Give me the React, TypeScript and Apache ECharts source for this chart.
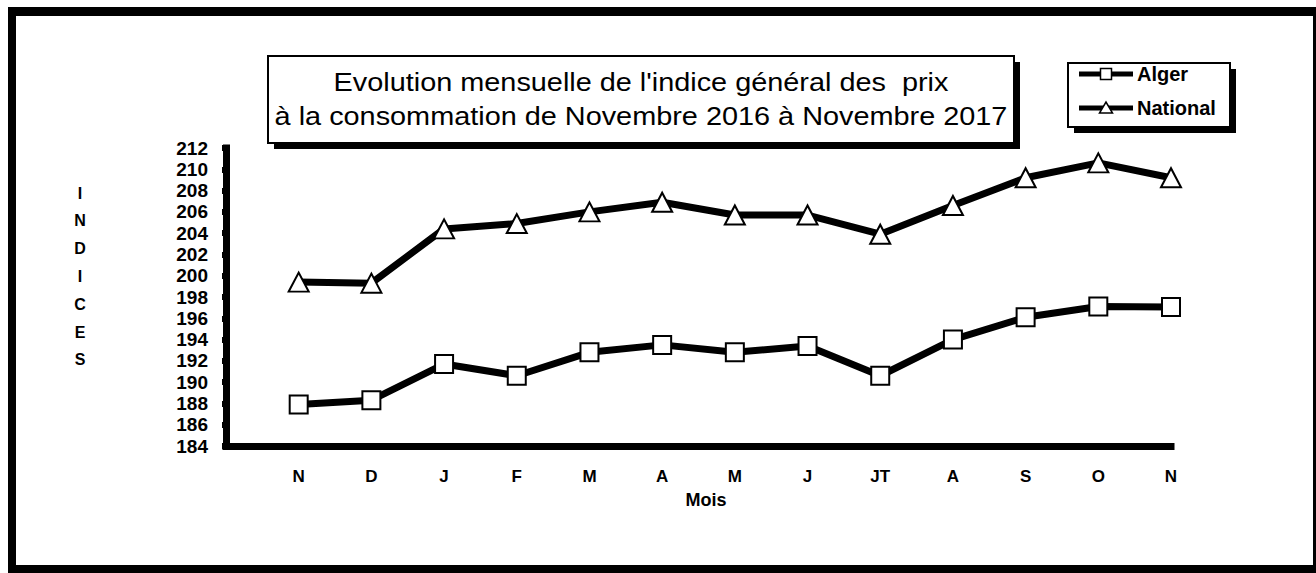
import React, { useEffect, useRef } from "react";
import * as echarts from "echarts";

const months = ["", "N", "D", "J", "F", "M", "A", "M", "J", "JT", "A", "S", "O", "N"];
const algerValues = [null, 187.9, 188.3, 191.7, 190.6, 192.8, 193.5, 192.8, 193.4, 190.6, 194.0, 196.1, 197.1, 197.05];
const nationalValues = [null, 199.4, 199.3, 204.4, 204.9, 206.0, 206.9, 205.7, 205.7, 203.9, 206.6, 209.2, 210.6, 209.2];
const yMin = 184;
const yMax = 212;
const yInterval = 2;
const seriesNames = ["Alger", "National"];
const titleLines = [
  "Evolution mensuelle de l'indice général des  prix",
  "à la consommation de Novembre 2016 à Novembre 2017",
];
const yAxisTitle = "INDICES";
const xAxisTitle = "Mois";

const FONT = "Arial, 'Liberation Sans', Helvetica, sans-serif";

export default function App() {
  const ref = useRef<HTMLDivElement>(null);

  useEffect(() => {
    if (!ref.current) return;
    const chart = echarts.init(ref.current, null, { renderer: "svg" });

    const frame = [
      { type: "rect", shape: { x: 8, y: 7, width: 1310, height: 9 }, style: { fill: "#000" } },
      { type: "rect", shape: { x: 8, y: 7, width: 8, height: 566 }, style: { fill: "#000" } },
      { type: "rect", shape: { x: 8, y: 565, width: 1310, height: 8 }, style: { fill: "#000" } },
      { type: "rect", shape: { x: 1313, y: 7, width: 3, height: 566 }, style: { fill: "#000" } },
    ];

    const titleBox = [
      { type: "rect", shape: { x: 274, y: 62, width: 746, height: 87 }, style: { fill: "#000" } },
      { type: "rect", shape: { x: 268, y: 56, width: 746, height: 87 }, style: { fill: "#fff", stroke: "#000", lineWidth: 2 } },
      ...titleLines.map((t, i) => ({
        type: "text",
        x: 641,
        y: 82 + i * 34,
        scaleX: 1.11,
        style: { text: t, fill: "#000", font: `26px ${FONT}`, textAlign: "center", textVerticalAlign: "middle" },
      })),
    ];

    const legendY = [74, 108];
    const legend = [
      { type: "rect", shape: { x: 1074, y: 69, width: 162, height: 64 }, style: { fill: "#000" } },
      { type: "rect", shape: { x: 1068, y: 63, width: 162, height: 64 }, style: { fill: "#fff", stroke: "#000", lineWidth: 2 } },
      ...seriesNames.flatMap((name, i) => {
        const y = legendY[i];
        const marker =
          i === 0
            ? { type: "rect", shape: { x: 1100.5, y: y - 5.5, width: 11, height: 11 }, style: { fill: "#fff", stroke: "#000", lineWidth: 1.5 } }
            : { type: "polygon", shape: { points: [[1099.5, y + 5], [1112.5, y + 5], [1106, y - 6]] }, style: { fill: "#fff", stroke: "#000", lineWidth: 1.5 } };
        return [
          { type: "line", shape: { x1: 1079, y1: y, x2: 1133, y2: y }, style: { stroke: "#000", lineWidth: 5 } },
          marker,
          { type: "text", x: 1137, y, style: { text: name, fill: "#000", font: `bold 20px ${FONT}`, textVerticalAlign: "middle" } },
        ];
      }),
    ];

    const indices = yAxisTitle.split("").map((ch, i) => ({
      type: "text",
      x: 80,
      y: 193 + i * 27.8,
      style: { text: ch, fill: "#000", font: `bold 16px ${FONT}`, textAlign: "center", textVerticalAlign: "middle" },
    }));

    const mois = {
      type: "text",
      x: 706,
      y: 500,
      style: { text: xAxisTitle, fill: "#000", font: `bold 18px ${FONT}`, textAlign: "center", textVerticalAlign: "middle" },
    };

    const symbolStyle = { color: "#fff", borderColor: "#000", borderWidth: 2 };

    chart.setOption({
      animation: false,
      backgroundColor: "#fff",
      grid: { left: 226, right: 145, top: 148, bottom: 127 },
      xAxis: {
        type: "category",
        data: months,
        boundaryGap: false,
        axisLine: { show: true, lineStyle: { color: "#000", width: 7, cap: "square" } },
        axisTick: { show: true, length: 4, lineStyle: { color: "#000", width: 5 } },
        axisLabel: { color: "#000", fontFamily: FONT, fontWeight: "bold", fontSize: 17, margin: 22, interval: 0 },
        splitLine: { show: false },
      },
      yAxis: {
        type: "value",
        min: yMin,
        max: yMax,
        interval: yInterval,
        axisLine: { show: true, lineStyle: { color: "#000", width: 7, cap: "square" } },
        axisTick: { show: true, length: 4, lineStyle: { color: "#000", width: 6 } },
        axisLabel: { color: "#000", fontFamily: FONT, fontWeight: "bold", fontSize: 19, margin: 18 },
        splitLine: { show: false },
      },
      series: [
        {
          name: seriesNames[0],
          type: "line",
          data: algerValues,
          symbol: "rect",
          symbolSize: 18,
          itemStyle: symbolStyle,
          lineStyle: { color: "#000", width: 7 },
          z: 3,
        },
        {
          name: seriesNames[1],
          type: "line",
          data: nationalValues,
          symbol: "triangle",
          symbolSize: [20, 19],
          itemStyle: symbolStyle,
          lineStyle: { color: "#000", width: 7 },
          z: 3,
        },
      ],
      graphic: { elements: [...frame, ...titleBox, ...legend, ...indices, mois] },
    });

    return () => chart.dispose();
  }, []);

  return (
    <div
      ref={ref}
      style={{ position: "absolute", left: 0, top: 0, width: 1316, height: 573 }}
    />
  );
}
